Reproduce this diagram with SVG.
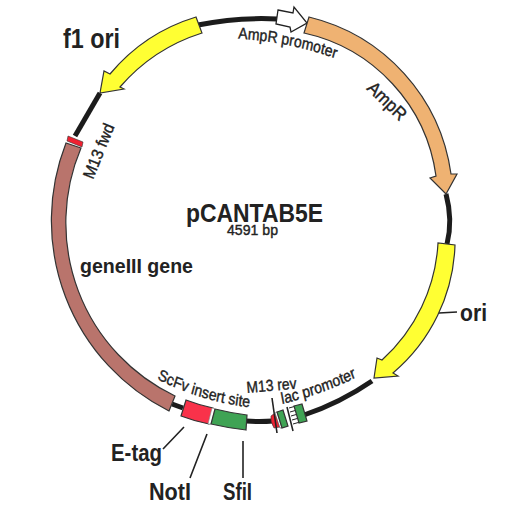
<svg xmlns="http://www.w3.org/2000/svg" width="522" height="508" viewBox="0 0 522 508">
<style>
text{font-family:"Liberation Sans",Arial,sans-serif;fill:#222}
.b{font-weight:bold}
.s{font-size:16px;stroke:#222;stroke-width:.4px}
.f{stroke:#333;stroke-width:1.2;stroke-linejoin:miter}
.bb{fill:none;stroke:#1c1c1c;stroke-width:5}
.ld{fill:none;stroke:#222;stroke-width:1.6}
</style>
<defs>
<path id="p1" d="M178.400,379 Q227.300,401 280.700,407 L300,409"/>
<path id="p2" d="M270.500,38.500 Q329.500,42 383,59 L400,65"/>
<path id="p3" d="M320.500,404 Q363.600,395 403.400,378 L420,370"/>
</defs>
<rect width="522" height="508" fill="#fff"/>
<g id="connectors">
<path class="bb" d="M198,25 Q238,17 277,19"/>
<path class="bb" d="M446,194 Q453,220 447,244"/>
<path class="bb" d="M304,415 Q340,403 372,381"/>
<path class="bb" d="M246,421 Q260,422 273,421"/>
<path class="bb" d="M172,404 L183,408"/>
<path class="bb" d="M100,93 L75,136"/>
<path class="ld" d="M184,427 L163,449M207,434 L190,478M243,441 L243,478M439,313 L457,312"/>
</g>
<g id="ampr-promoter"><path fill="#fff" stroke="#222" stroke-width="1.3" d="M278,10 L293,13 L294,7 L307,23 L291,32 L290,27 L276,24 Z"/><text class="s" transform="scale(.88,1)"><textPath href="#p2">AmpR promoter</textPath></text></g>
<g id="ampr"><path class="f" fill="#efb272" d="M309,17 A188,188 0 0 1 451,174 L457,174 L446,194 L430,178 L436,176 A170,170 0 0 0 304,33 Z"/><text class="s" style="font-size:18px" textLength="47" lengthAdjust="spacingAndGlyphs" transform="translate(366,89) rotate(44)">AmpR</text></g>
<g id="ori"><path class="f" fill="#ffff33" d="M455,245 A175,175 0 0 1 393,373 L398,376 L374,378 L377,358 L382,360 A170,170 0 0 0 438,243 Z"/><text class="b" x="460" y="321" font-size="24" textLength="27" lengthAdjust="spacingAndGlyphs">ori</text></g>
<g id="f1-ori"><path class="f" fill="#ffff33" d="M196,17 A180,180 0 0 0 110,74 L104,71 L100,93 L124,89 L120,87 A180,180 0 0 1 202,33 Z"/><text class="b" x="63" y="48" font-size="27" textLength="57" lengthAdjust="spacingAndGlyphs">f1 ori</text></g>
<g id="m13-fwd"><path fill="#fff" d="M66,139 L83,145 L81,149 L65,143 Z"/><path fill="#f02030" stroke="#333" stroke-width=".6" d="M68,136 L83,142 L82,147 L67,141 Z"/><text class="s" style="font-size:16.500px" textLength="58" lengthAdjust="spacingAndGlyphs" transform="translate(93,180) rotate(-68)">M13 fwd</text></g>
<g id="geneIII"><path class="f" fill="#b9746c" d="M66,143 A213,213 0 0 0 169,411 L175,396 A192,192 0 0 1 81,148 Z"/><text class="b" x="80" y="273" font-size="19.500" textLength="113" lengthAdjust="spacingAndGlyphs">geneIII gene</text></g>
<g id="scfv"><text class="s" transform="scale(.88,1)"><textPath href="#p1">ScFv insert site</textPath></text></g>
<g id="e-tag"><path class="f" fill="#f9324a" d="M186,400 Q199,405 213,408 L209,424 Q194,421 181,416 Z"/><text class="b" x="111" y="461" font-size="24" textLength="51" lengthAdjust="spacingAndGlyphs">E-tag</text></g>
<g id="notI"><path fill="#fff" stroke="#888" stroke-width=".6" d="M212,408 L215,409 L211,424 L208,424 Z"/><text class="b" x="149" y="500" font-size="24" textLength="42" lengthAdjust="spacingAndGlyphs">NotI</text></g>
<g id="sfiI"><path class="f" fill="#3fa354" d="M215,409 Q231,413 247,415 L246,430 Q228,428 211,424 Z"/><text class="b" x="223" y="500" font-size="23" textLength="29" lengthAdjust="spacingAndGlyphs">SfiI</text></g>
<g id="m13-rev"><path fill="#f02030" stroke="#333" stroke-width=".6" d="M275,413 L280,427 L274,428 Q270,421 271,416 Z"/><path class="ld" d="M272,398 L277,433"/><text class="s" textLength="50" lengthAdjust="spacingAndGlyphs" transform="translate(247,393) rotate(-5)">M13 rev</text></g>
<g id="lac-promoter">
<path fill="#fff" stroke="#555" stroke-width=".6" d="M275,413 L277,412 L282,428 L280,428 Z"/>
<path class="f" fill="#3fa354" d="M277,412 L283,410 L288,426 L282,428 Z"/>
<path class="ld" d="M287,407 L293,431"/>
<path class="ld" style="stroke-width:1" d="M289,408 L296,406M290,412 L297,410M291,416 L298,414M292,420 L299,418M293,424 L300,422"/>
<path class="f" fill="#3fa354" d="M294,406 L302,404 L307,421 L299,423 Z"/>
<text class="s" transform="scale(.88,1)"><textPath href="#p3">lac promoter</textPath></text></g>
<g id="title"><text class="b" x="186" y="222" font-size="26" textLength="137" lengthAdjust="spacingAndGlyphs">pCANTAB5E</text><text class="s" x="227" y="235" style="font-size:14.500px" textLength="51" lengthAdjust="spacingAndGlyphs">4591 bp</text></g>
</svg>
